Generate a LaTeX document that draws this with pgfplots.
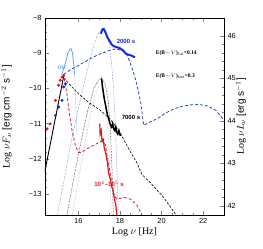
\documentclass[border=0pt]{standalone}
\usepackage{fontspec}
\setmainfont{Liberation Serif}
\setsansfont{Liberation Sans}
\usepackage{pgfplots}
\pgfplotsset{compat=1.18}
\definecolor{dblue}{RGB}{35,70,200}
\definecolor{bblue}{RGB}{20,40,230}
\definecolor{lblue}{RGB}{100,160,235}
\definecolor{dotblue}{RGB}{70,100,220}
\definecolor{crim}{RGB}{205,30,80}
\definecolor{rdata}{RGB}{230,20,20}
\definecolor{gr}{RGB}{150,150,150}
\begin{document}
\begin{tikzpicture}
\begin{axis}[name=main,
  scale only axis, width=179pt, height=197pt,
  xmin=14.4, xmax=23, ymin=-13.6, ymax=-8,
  xtick={16,18,20,22}, minor x tick num=3,
  ytick={-13,-12,-11,-10,-9,-8},
  yticklabels={−13,−12,−11,−10,−9,−8},
  minor y tick num=4,
  tick align=inside, xtick pos=both, ytick pos=left,
  major tick length=4pt, minor tick length=2pt,
  tick label style={font=\sffamily\fontsize{7.4}{8}\selectfont},
  /pgf/number format/assume math mode=true,
  xlabel={Log $\nu$ [Hz]},
  ylabel={Log $\nu F_\nu$ {\sffamily [erg cm$^{-2}$ s$^{-1}$]}},
  label style={font=\fontsize{9}{10}\selectfont},
  every axis x label/.style={at={(axis description cs:0.5,-0.086)}, anchor=center},
  every axis y label/.style={at={(axis description cs:-0.215,0.5)}, rotate=90, anchor=center},
  clip=true,
]
% black dashed 7000 s model
\addplot[black, line width=0.6pt, dash pattern=on 2.5pt off 1.5pt] coordinates {
(15.3,-9.7)(15.6,-9.9)(16,-10.15)(16.5,-10.4)(17,-10.6)(17.5,-10.85)(18,-11.25)(18.5,-11.8)(18.8,-12.1)(19.06,-12.45)(19.46,-12.68)(20.1,-13.1)(20.7,-13.6)};
% gray bell
\addplot[gr, line width=0.4pt, densely dotted] coordinates {
(15.7,-13.6)(16.1,-12.3)(16.5,-11.0)(16.8,-10.2)(17.0,-9.93)(17.1,-9.92)(17.25,-10.3)(17.4,-11.0)(17.5,-12.0)(17.58,-13.6)};
% black dotted bell
\addplot[black, line width=0.5pt, densely dotted] coordinates {
(15.45,-13.6)(15.8,-12.5)(16.1,-11.6)(16.45,-10.63)(16.75,-10.0)(17.0,-9.75)(17.12,-9.7)(17.3,-9.9)(17.45,-10.4)(17.55,-11.3)(17.62,-12.3)(17.68,-13.6)};
% blue dotted bell
\addplot[dotblue, line width=0.5pt, densely dotted] coordinates {
(15.0,-13.6)(15.3,-12.65)(15.6,-11.7)(15.9,-10.85)(16.2,-10.05)(16.45,-9.44)(16.77,-8.7)(17.0,-8.4)(17.17,-8.3)(17.35,-8.45)(17.5,-8.8)(17.6,-9.3)(17.7,-10.1)(17.78,-11.0)(17.85,-12.2)(17.92,-13.6)};
% light blue OM bump
\addplot[lblue, line width=0.8pt] coordinates {
(15.2,-9.62)(15.35,-9.35)(15.5,-9.0)(15.6,-8.88)(15.65,-8.87)(15.72,-9.0)(15.78,-9.3)(15.82,-9.6)};
\addplot[lblue, line width=0.5pt, densely dotted] coordinates {
(15.82,-9.6)(15.86,-10.2)(15.9,-10.8)(15.93,-11.3)};
% red dashed model
\addplot[crim, line width=0.8pt, dash pattern=on 3pt off 2pt] coordinates {
(15.33,-9.72)(15.45,-10.15)(15.57,-10.7)(15.7,-11.2)(15.85,-11.6)(16.0,-11.82)(16.15,-11.82)(16.4,-11.72)(16.8,-11.6)(17.1,-11.5)(17.3,-11.6)(17.5,-12.3)(17.7,-13.0)(17.85,-13.15)(18.2,-13.1)(18.5,-13.15)(18.8,-13.3)(19.06,-13.6)};
% blue dashed model
\addplot[dblue, line width=0.8pt, dash pattern=on 3pt off 2pt] coordinates {
(15.3,-9.6)(15.6,-9.48)(16,-9.35)(16.5,-9.18)(17,-9.03)(17.5,-8.92)(17.8,-8.88)(18.1,-8.92)(18.35,-9.05)(18.6,-9.45)(18.8,-9.85)(19.0,-10.4)(19.14,-11.05)(19.4,-10.97)(19.8,-10.86)(20.2,-10.7)(20.6,-10.58)(21,-10.51)(21.4,-10.47)(21.8,-10.46)(22.2,-10.5)(22.6,-10.62)(23,-10.9)};
% UV power law
\addplot[black, line width=0.9pt] coordinates {(14.38,-12.4)(15.3,-9.65)};
% 2000 s data
\addplot[bblue, line width=2pt] coordinates {
(17.09,-8.45)(17.15,-8.33)(17.22,-8.31)(17.3,-8.4)(17.4,-8.55)(17.5,-8.65)(17.6,-8.75)(17.7,-8.8)(17.85,-8.83)(18.0,-8.86)(18.15,-8.92)(18.3,-9.02)(18.45,-9.05)(18.6,-9.08)(18.72,-9.12)};
% 7000 s data
\addplot[black, line width=1.5pt] coordinates {
(17.12,-9.72)(17.15,-9.9)(17.2,-10.1)(17.25,-10.3)(17.3,-10.45)(17.35,-10.6)(17.4,-10.75)(17.45,-10.85)(17.5,-10.95)(17.55,-11.05)(17.6,-11.1)(17.65,-11.0)(17.7,-11.15)(17.75,-11.2)(17.8,-11.1)(17.85,-11.25)(17.9,-11.3)(17.95,-11.2)(18.02,-11.35)};
% late data
\addplot[rdata, line width=1.2pt] coordinates {
(17.03,-11.0)(17.05,-11.3)(17.1,-11.2)(17.14,-11.5)(17.2,-11.45)(17.25,-11.7)(17.3,-11.8)(17.35,-11.95)(17.4,-12.1)(17.45,-12.4)(17.5,-12.5)(17.55,-12.6)(17.6,-12.8)(17.65,-12.85)(17.7,-13.0)(17.75,-13.2)(17.8,-13.3)(17.85,-13.6)};
% UV points
\addplot[only marks, mark=*, mark size=1.3pt, rdata] coordinates {
(14.5,-11.15)(14.65,-11.01)(14.9,-10.34)(15.05,-9.91)(15.13,-9.77)(15.22,-9.68)(15.3,-9.63)};
\addplot[only marks, mark=*, mark size=1.3pt, bblue] coordinates {
(14.9,-10.77)(15.06,-10.53)(15.22,-10.34)(15.3,-9.96)(15.38,-9.87)};
% annotations
\node[bblue, font=\sffamily\bfseries\fontsize{6}{7}\selectfont, anchor=west] at (axis cs:17.68,-8.68) {2000 s};
\node[black, font=\sffamily\bfseries\fontsize{6}{7}\selectfont, anchor=west] at (axis cs:17.92,-10.82) {7000 s};
\node[rdata, font=\sffamily\bfseries\fontsize{6}{7}\selectfont, anchor=west] at (axis cs:16.6,-12.72) {10$^4$–10$^5$ s};
\node[lblue, font=\sffamily\bfseries\fontsize{5}{6}\selectfont] at (axis cs:15.2,-9.42) {OM};
\node[black, font=\bfseries\fontsize{5.5}{6}\selectfont, anchor=west] at (axis cs:19.56,-9.01) {E(B$-$$V$)$_{\rm Gal}$=0.14};
\node[black, font=\bfseries\fontsize{5.5}{6}\selectfont, anchor=west] at (axis cs:19.56,-9.66) {E(B$-$$V$)$_{\rm host}$=0.3};
\end{axis}
\begin{axis}[
  scale only axis, width=179pt, height=197pt,
  xmin=14.4, xmax=23, ymin=41.78, ymax=46.42,
  axis x line=none, axis y line*=right,
  ytick={42,43,44,45,46}, minor y tick num=4,
  tick align=inside,
  major tick length=4pt, minor tick length=2pt,
  tick label style={font=\sffamily\fontsize{7.4}{8}\selectfont},
  /pgf/number format/assume math mode=true,
  ylabel={Log $\nu L_\nu$ {\sffamily [erg s$^{-1}$]}},
  label style={font=\fontsize{9}{10}\selectfont},
  every axis y label/.style={at={(axis description cs:1.095,0.5)}, rotate=90, anchor=center},
]
\addplot[draw=none] coordinates {(20,44)};
\end{axis}
\pgfresetboundingbox
\path ([shift={(-45pt,-34pt)}]main.south west) rectangle ++(263pt,249pt);
\end{tikzpicture}
\end{document}
